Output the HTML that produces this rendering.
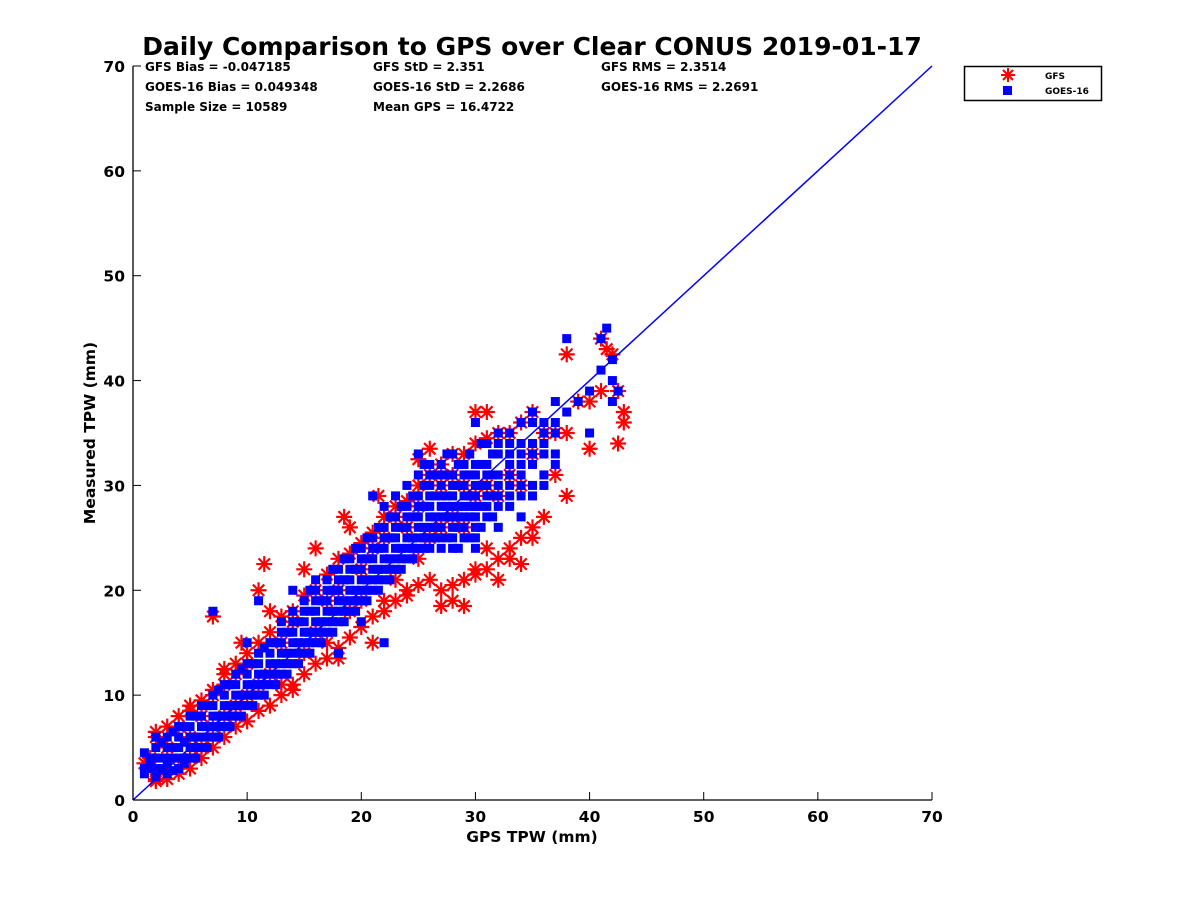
<!DOCTYPE html>
<html><head><meta charset="utf-8"><style>
body{margin:0;background:#fff;}
svg text{font-family:"DejaVu Sans","Liberation Sans",sans-serif;font-weight:bold;fill:#000;}
</style></head><body>
<svg id="chart" width="1200" height="900" xmlns="http://www.w3.org/2000/svg">
<rect width="1200" height="900" fill="#fff"/>
<text x="532" y="55" font-size="25" text-anchor="middle">Daily Comparison to GPS over Clear CONUS 2019-01-17</text>
<g font-size="12">
<text x="145" y="71">GFS Bias = -0.047185</text>
<text x="373" y="71">GFS StD = 2.351</text>
<text x="601" y="71">GFS RMS = 2.3514</text>
<text x="145" y="91">GOES-16 Bias = 0.049348</text>
<text x="373" y="91">GOES-16 StD = 2.2686</text>
<text x="601" y="91">GOES-16 RMS = 2.2691</text>
<text x="145" y="111">Sample Size = 10589</text>
<text x="373" y="111">Mean GPS = 16.4722</text>
</g>
<g id="marks"></g>
<g id="axes"></g>
<text x="532" y="842" font-size="15.5" text-anchor="middle">GPS TPW (mm)</text>
<text x="95" y="433" font-size="15.5" text-anchor="middle" transform="rotate(-90 95 433)">Measured TPW (mm)</text>
<g>
<rect x="964.5" y="66.5" width="137" height="34" fill="#fff" stroke="#000" stroke-width="1.5"/>
<g stroke="red" stroke-width="2">
<line x1="1008" y1="68" x2="1008" y2="82"/><line x1="1001" y1="75" x2="1015" y2="75"/>
<line x1="1003" y1="70" x2="1013" y2="80"/><line x1="1003" y1="80" x2="1013" y2="70"/></g>
<rect x="1003" y="86" width="9" height="9" fill="blue"/>
<text x="1045" y="79" font-size="9">GFS</text>
<text x="1045" y="94" font-size="9">GOES-16</text>
</g>
</svg>
<script>
const xTicks=[0,10,20,30,40,50,60,70];
const yTicks=[0,10,20,30,40,50,60,70];
const goesX=[1,1.5,2,2,2.5,3,3,3,3.5,4,4,4,4.5,5,5,5,5.5,6,6,6,6.5,7,7,7,7,7.5,8,8,8,8.5,9,9,9,9.5,10,10,10,10,10.5,11,11,11,11,11.5,12,12,12,12.5,13,13,13,13.5,14,14,14,14,14.5,15,15,15,15.5,16,16,16,16,16.5,17,17,17,17.5,18,18,18,18,18.5,19,19,19,19.5,20,20,20,20,20.5,21,21,21,21,21.5,22,22,22,22,22.5,23,23,23,23.5,24,24,24,24.5,25,25,25,25,25.5,26,26,26,26,26.5,27,27,27,27,27.5,28,28,28,28,28,28.5,29,29,29,29,29.5,30,30,30,30,30,30,31,31,31,31,32,32,32,32,32,33,33,33,33,34,34,34,34,34,35,35,35,35,36,36,36,37,37,37,38,38,39,40,40,41,41,41.5,42,42,42,42.5];
const goesY=[3,4,3,5,4,2.5,4,6,5,3,5,7,4,4,6,8,5,5,7,9,6,6,8,10,18,7,7,9,11,8,8,10,12,9,9,11,13,15,10,10,12,14,19,11,11,13,15,12,12,14,16,13,13,15,17,20,14,14,16,18,15,15,17,19,21,16,16,18,20,17,17,19,21,14,18,18,20,22,19,19,21,23,17,20,20,22,24,29,21,21,23,25,15,22,22,24,26,23,23,25,27,24,24,26,28,33,25,25,27,29,31,26,25,27,29,31,28,24,26,28,30,33,27,25,27,29,31,28,24,26,28,30,32,36,27,29,31,34,26,28,30,33,35,28,30,32,34,27,29,31,33,36,29,32,34,37,30,33,36,32,35,38,37,44,38,35,39,41,44,45,42,38,40,39];
const goesRowX=[1,1.5,2,2.5,3,3.5,4,4.5,5,5.5,6,6.5,7,7.5,8,8.5,9,9.5,10,10.5,11,11.5,12,12.5,13,13.5,14,14.5,15,15.5,16,16.5,17,17.5,18,18.5,19,19.5,20,20.5,21,21.5,22,22.5,23,23.5,24,24.5,25,25.5,26,26.5,27,27.5,28,28.5,29,29.5,30,30.5,31,31.5,32,33,34,35,36,37];
const goesRowY=[[2.5,4.5],[3,3.8],[2.2,4,6],[3,5.5],[3.5,5],[2.8,4,6.5],[4,6],[3.5,5.5,7],[5,7],[4,6,8],[6,8],[5,7,9],[7,9],[6,8,10.5],[8,10],[7,9,11],[9,11],[8,10,12.5],[10,12],[9,11,13],[11,13],[10,12,14.5],[12,14],[11,13,15],[13,15,17],[12,14,16],[14,16,18],[13,15,17],[15,17,19],[14,16,18,20],[16,18,20],[15,17,19],[17,19,21],[16,18,20,22],[18,20,22],[17,19,21,23],[19,21,23],[18,20,22,24],[20,22,24],[19,21,23,25],[21,23,25],[20,22,24,26],[22,24,26,28],[21,23,25,27],[23,25,27,29],[22,24,26,28],[24,26,28,30],[23,25,27,29],[25,27,29,31],[24,26,28,30,32],[24,26,28,30,32],[25,27,29,31],[24,26,28,30,32],[25,27,29,31,33],[25,27,29,31],[24,26,28,30,32],[26,28,30,32],[25,27,29,31,33],[25,27,29,31],[26,28,30,32,34],[28,30,32],[27,29,31,33],[29,31,34],[29,31,33,35],[30,32,34],[30,33,36],[31,34,35],[33,36]];
const gfsX=[1,1.5,2,2,3,3,4,4,5,5,5,6,6,7,7,7,8,8,8,9,9,9.5,10,10,11,11,11.5,12,12,13,13,14,14,15,15,16,16,17,17,18,18,18.5,19,19,20,20,21,21,21.5,22,22,23,23,24,24,25,25,25,26,26,27,27,27,28,28,28,29,29,29,30,30,30,31,31,31,32,32,33,33,34,34,35,35,36,36,37,37,38,38,38,39,40,40,41,41.5,42,42.5,43,43,42.5,41];
const gfsY=[3.5,4,2,6,2.5,5,3,7,4,6,9,5,8,7,10,17.5,8,11,12.5,9,12,15,10,13,11,20,22.5,12,18,11,15,10.5,17,14,22,16,24,15,19,13.5,20,27,18,26,19,22,15,24,29,19,25,21,27,19.5,26,23,28,32.5,25,33.5,18.5,26,30,19,27,31,18.5,26,30,22,29,37,24,30,37,21,29,23,31,22.5,30,25,33,27,35,31,35,29,35,42.5,38,33.5,38,44,43,42.5,34,36,37,39,39];
const gfsRowX=[2,3,4,5,6,7,8,9,10,11,12,13,14,15,16,17,18,19,20,21,22,23,24,25,26,27,28,29,30,31,32,33,34,35];
const gfsRowY=[[1.8,6.5],[2,7],[2.5,8],[3,8.5],[4,9.5],[5,10.5],[6,12],[7,13],[7.5,14],[8.5,15],[9,16],[10,17.5],[11,18],[12,19.5],[13,20],[13.5,21.5],[14.5,23],[15.5,23.5],[16.5,24.5],[17.5,25.5],[18,27],[19,28],[20,28.5],[20.5,30],[21,31],[20,32],[20.5,33],[21,33],[21.5,34],[22,34.5],[23,35],[24,35],[25,36],[26,37]];
const X0=133,X1=932,Y0=800,Y1=66;
const sx=v=>X0+(v-0)*(X1-X0)/70;
const sy=v=>Y0-(v-0)*(Y0-Y1)/70;
const NS="http://www.w3.org/2000/svg";
const marks=document.getElementById('marks'),axes=document.getElementById('axes');
function mk(t,a,p){const e=document.createElementNS(NS,t);for(const k in a)e.setAttribute(k,a[k]);p.appendChild(e);return e;}
function star(x,y){
  const cx=sx(x),cy=sy(y);
  const g=mk('g',{stroke:'red','stroke-width':2.2},marks);
  
  
  mk('line',{x1:cx,y1:cy-8,x2:cx,y2:cy+8},g);
  mk('line',{x1:cx-8,y1:cy,x2:cx+8,y2:cy},g);
  mk('line',{x1:cx-5.7,y1:cy-5.7,x2:cx+5.7,y2:cy+5.7},g);
  mk('line',{x1:cx-5.7,y1:cy+5.7,x2:cx+5.7,y2:cy-5.7},g);
}
function sq(x,y){
  const r=mk('rect',{x:sx(x)-4.5,y:sy(y)-4.5,width:9,height:9,fill:'blue'},marks);
  
  
}
for(let i=0;i<gfsX.length;i++)star(gfsX[i],gfsY[i]);
gfsRowX.forEach((x,i)=>gfsRowY[i].forEach(y=>star(x,y)));
for(let i=0;i<goesX.length;i++)sq(goesX[i],goesY[i]);
goesRowX.forEach((x,i)=>goesRowY[i].forEach(y=>sq(x,y)));
const ln=mk('line',{x1:sx(0),y1:sy(0),x2:sx(70),y2:sy(70),stroke:'blue','stroke-width':1.5},marks);


mk('line',{x1:X0,y1:Y0,x2:X1,y2:Y0,stroke:'#000','stroke-width':1.3},axes);
mk('line',{x1:X0,y1:Y0,x2:X0,y2:Y1,stroke:'#000','stroke-width':1.3},axes);
xTicks.forEach(v=>{
  mk('line',{x1:sx(v),y1:Y0,x2:sx(v),y2:Y0-8,stroke:'#000'},axes);
  const t=mk('text',{x:sx(v),y:Y0+22,'font-size':15.5,'text-anchor':'middle'},axes);t.textContent=v;
  
  
});
yTicks.forEach(v=>{
  mk('line',{x1:X0,y1:sy(v),x2:X0+8,y2:sy(v),stroke:'#000'},axes);
  const t=mk('text',{x:X0-8,y:sy(v)+6,'font-size':15.5,'text-anchor':'end'},axes);t.textContent=v;
  
  
});
</script>
</body></html>
